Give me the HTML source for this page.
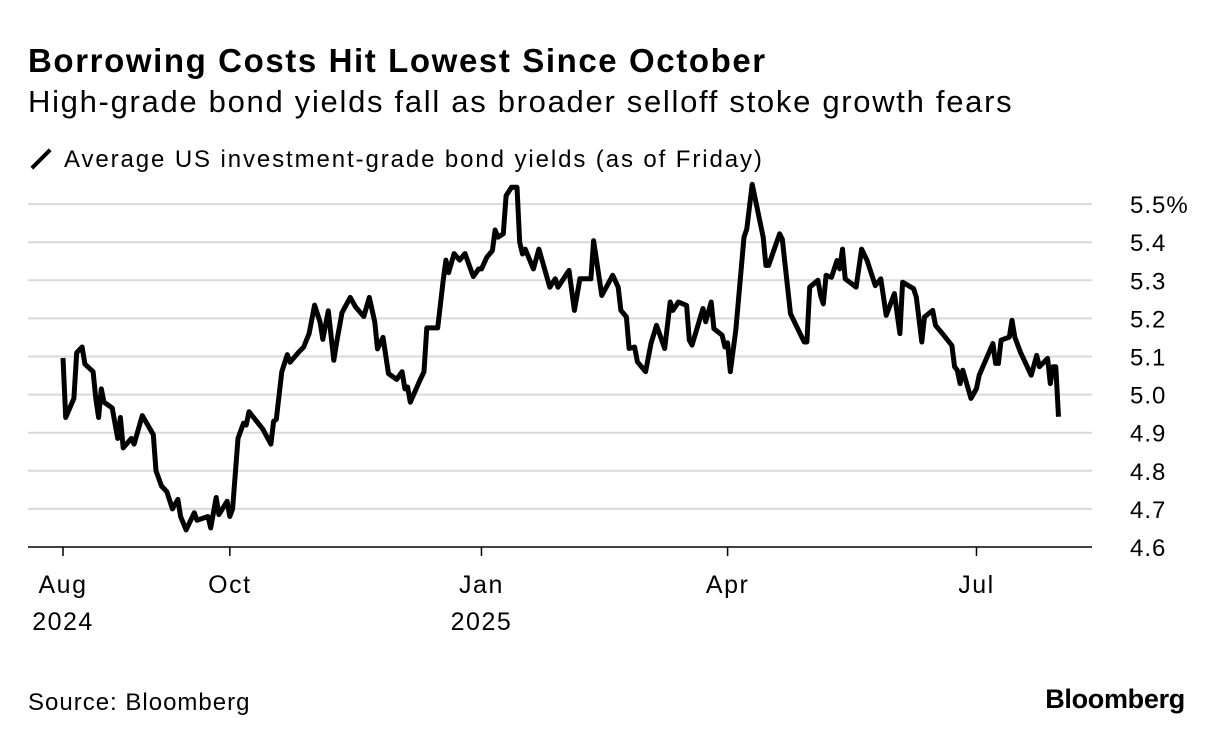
<!DOCTYPE html>
<html><head><meta charset="utf-8">
<style>
body{margin:0;background:#fff;font-family:"Liberation Sans",Arial,sans-serif;}
#wrap{position:relative;width:1223px;height:744px;overflow:hidden;}
.t{position:absolute;white-space:nowrap;color:#000;}
</style></head>
<body><div id="wrap">
<div class="t" style="left:28px;top:42px;font-size:33px;font-weight:bold;letter-spacing:1.6px">Borrowing Costs Hit Lowest Since October</div>
<div class="t" style="left:28px;top:84px;font-size:31px;letter-spacing:1.7px">High-grade bond yields fall as broader selloff stoke growth fears</div>
<div class="t" style="left:28px;top:146px;font-size:24px;letter-spacing:1.9px"><span style="display:inline-block;width:26px;height:4px;background:#000;transform:rotate(-45deg);vertical-align:middle;margin:0 10px 4px 0"></span>Average US investment-grade bond yields (as of Friday)</div>
<svg id="svg" width="1223" height="744" style="position:absolute;left:0;top:0"></svg>
<div class="t" style="left:28px;top:689px;font-size:24px;letter-spacing:1px">Source: Bloomberg</div>
<div class="t" style="right:38px;top:684px;font-size:27px;font-weight:bold;letter-spacing:-0.3px">Bloomberg</div>
</div>
<script>
const yTicks=[4.6,4.7,4.8,4.9,5.0,5.1,5.2,5.3,5.4,5.5];
const yTickLabels=["4.6","4.7","4.8","4.9","5.0","5.1","5.2","5.3","5.4","5.5%"];
const xTickDays=[0,61,153,243,334];
const xTickLabels=[["Aug","2024"],["Oct",""],["Jan","2025"],["Apr",""],["Jul",""]];
const days=[0,1,4,5,7,8,11,12,13,14,15,18,20,21,22,25,26,29,33,34,36,38,40,42,43,45,48,49,53,54,56,57,60,61,62,64,66,67,68,73,76,77,78,80,82,83,86,88,90,92,94,95,97,99,100,102,105,107,110,112,114,115,117,119,122,124,125,126,127,130,132,133,137,139,140,141,143,145,147,150,152,153,155,157,158,159,161,162,164,166,167,168,169,172,174,178,180,181,185,187,189,193,194,197,201,203,204,206,207,209,210,213,215,217,220,222,223,225,228,229,230,234,235,237,238,241,242,243,244,246,249,250,252,256,257,258,262,263,266,271,272,273,276,277,278,279,281,283,284,285,286,290,292,294,297,299,301,304,306,307,311,312,314,315,318,319,322,325,326,327,328,329,332,334,335,340,341,342,343,346,347,348,350,354,356,357,360,361,362,363,364];
const yields=[5.096,4.94,4.99,5.11,5.125,5.08,5.06,4.99,4.94,5.015,4.98,4.965,4.885,4.94,4.86,4.885,4.87,4.945,4.895,4.80,4.76,4.745,4.70,4.725,4.68,4.645,4.69,4.67,4.68,4.65,4.73,4.685,4.72,4.68,4.70,4.885,4.925,4.92,4.955,4.91,4.87,4.93,4.935,5.06,5.105,5.085,5.11,5.125,5.16,5.235,5.19,5.145,5.22,5.09,5.135,5.215,5.255,5.23,5.205,5.255,5.19,5.12,5.15,5.055,5.04,5.06,5.015,5.02,4.98,5.03,5.06,5.175,5.175,5.30,5.353,5.32,5.37,5.353,5.37,5.31,5.33,5.33,5.361,5.378,5.432,5.413,5.422,5.522,5.544,5.544,5.40,5.369,5.382,5.33,5.382,5.282,5.304,5.282,5.326,5.221,5.304,5.304,5.404,5.26,5.313,5.282,5.221,5.204,5.121,5.125,5.086,5.06,5.134,5.182,5.121,5.243,5.221,5.243,5.234,5.143,5.13,5.226,5.191,5.243,5.173,5.156,5.125,5.136,5.06,5.169,5.413,5.435,5.552,5.413,5.339,5.339,5.422,5.408,5.212,5.138,5.138,5.282,5.30,5.26,5.238,5.313,5.308,5.352,5.33,5.382,5.304,5.282,5.382,5.352,5.286,5.304,5.208,5.265,5.16,5.295,5.278,5.256,5.138,5.204,5.221,5.182,5.156,5.129,5.073,5.064,5.029,5.064,4.99,5.016,5.051,5.134,5.082,5.082,5.143,5.151,5.195,5.151,5.112,5.051,5.103,5.073,5.095,5.029,5.073,5.073,4.942];
const NS="http://www.w3.org/2000/svg";
const svg=document.getElementById('svg');
const X=d=>63+d*2.735;
const Y=v=>547-(v-4.6)*381;
function mk(tag,attrs){const e=document.createElementNS(NS,tag);for(const k in attrs)e.setAttribute(k,attrs[k]);svg.appendChild(e);return e;}
yTicks.forEach((v,i)=>{
  const l=mk('line',{x1:28,x2:1092,y1:Y(v),y2:Y(v),stroke:i===0?'#000':'#d9d9d9','stroke-width':i===0?1.5:2});
  
  
  const t=mk('text',{x:1130,y:Y(v)+9,'font-size':24,'letter-spacing':1,'font-family':'Liberation Sans, Arial, sans-serif',fill:'#000'});
  t.textContent=yTickLabels[i];
  
  
});
xTickDays.forEach((d,i)=>{
  const l=mk('line',{x1:X(d),x2:X(d),y1:547,y2:556,stroke:'#000','stroke-width':1.5});
  
  
  xTickLabels[i].forEach((s,j)=>{
    if(!s)return;
    const t=mk('text',{x:X(d),y:593+j*37,'font-size':25,'letter-spacing':1.5,'text-anchor':'middle','font-family':'Liberation Sans, Arial, sans-serif',fill:'#000'});
    t.textContent=s;
    
    
  });
});
const pts=days.map((d,i)=>X(d).toFixed(1)+','+Y(yields[i]).toFixed(1)).join(' ');
const pl=mk('polyline',{points:pts,fill:'none',stroke:'#000','stroke-width':5,'stroke-linejoin':'round'});


</script>
</body></html>
